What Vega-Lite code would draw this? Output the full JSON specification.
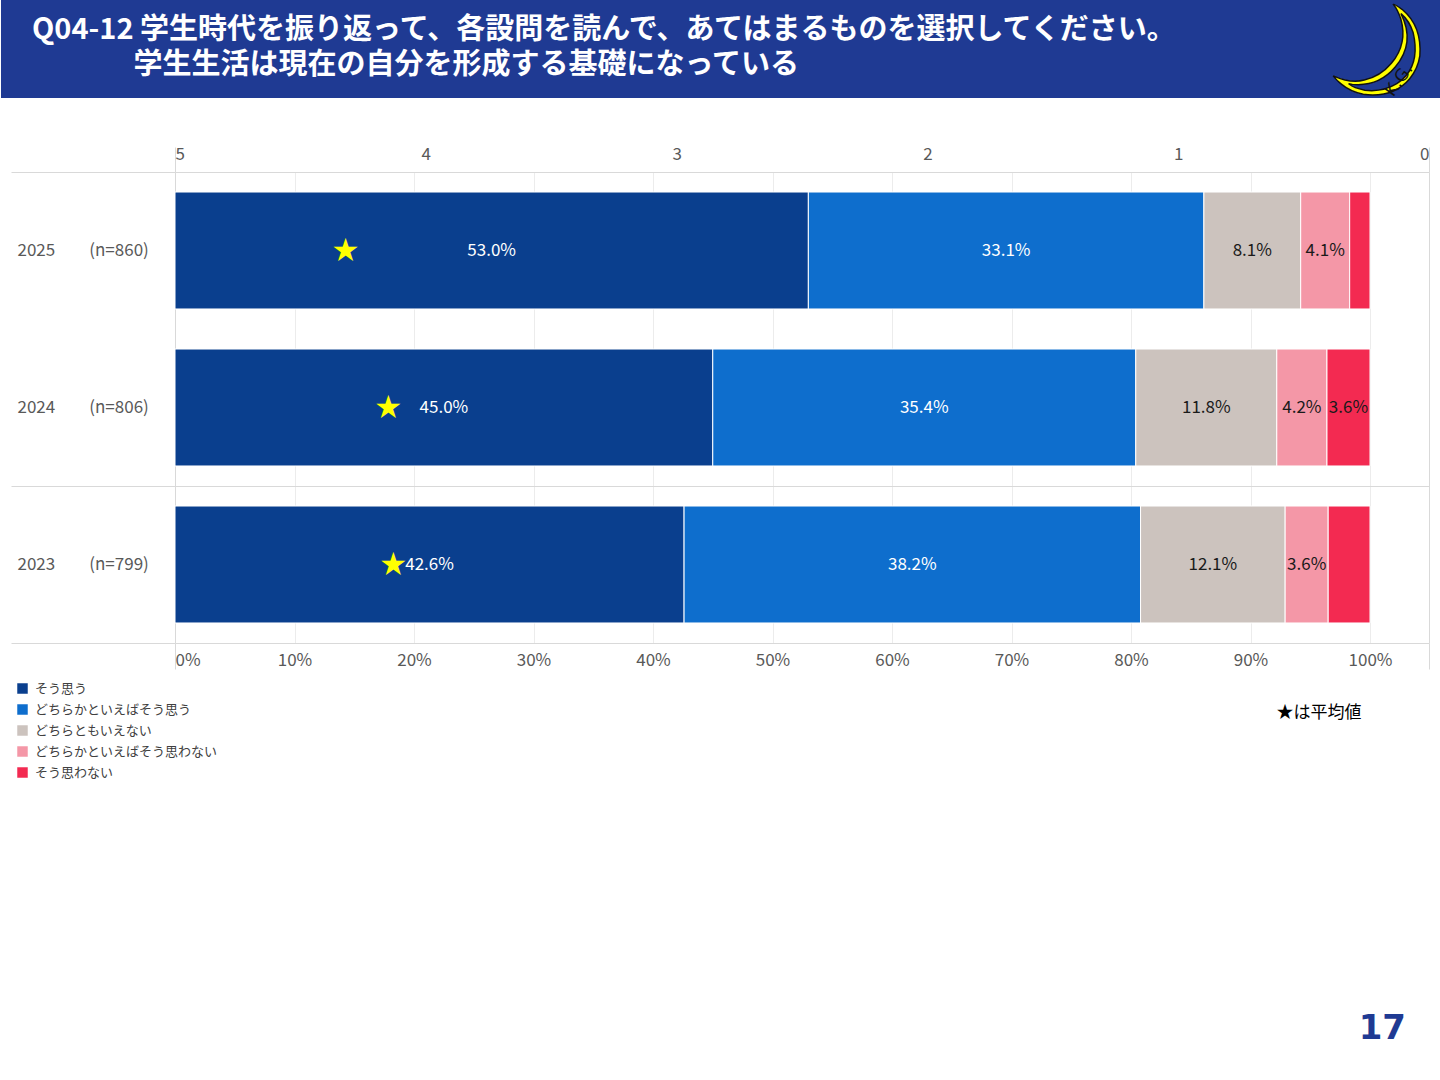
{
  "$schema": "https://vega.github.io/schema/vega-lite/v6.json",
  "padding": 0,
  "autosize": {"type": "pad"},
  "background": "white",
  "spacing": 47,
  "vconcat": [
    {
      "width": 1440,
      "height": 98,
      "view": {"fill": "#1F3A93", "stroke": null},
      "title": {
        "text": ["Q04-12 学生時代を振り返って、各設問を読んで、あてはまるものを選択してください。", "\u200B　　　\u2002学生生活は現在の自分を形成する基礎になっている"],
        "anchor": "start", "frame": "group", "dx": 31, "offset": -80,
        "fontSize": 29, "fontWeight": "bold", "color": "white", "lineHeight": 35, "font": "Noto Sans CJK JP"
      },
      "data": {"values": [{"logo": "☽", "kg": "K.G."}]},
      "layer": [
        {
          "mark": {"type": "text", "clip": true, "font": "DejaVu Sans", "fontSize": 132, "angle": 40, "color": "#FFFF00", "stroke": "#111111", "strokeWidth": 1.5},
          "encoding": {
            "text": {"field": "logo"},
            "x": {"datum": 0.949, "type": "quantitative", "scale": {"domain": [0, 1]}, "axis": null},
            "y": {"datum": 0.45, "type": "quantitative", "scale": {"domain": [0, 1]}, "axis": null}
          }
        },
        {
          "mark": {"type": "text", "clip": true, "font": "DejaVu Sans", "fontSize": 17, "angle": -55, "color": "#111111"},
          "encoding": {
            "text": {"field": "kg"},
            "x": {"datum": 0.971, "type": "quantitative"},
            "y": {"datum": 0.18, "type": "quantitative"}
          }
        }
      ]
    },
    {
      "width": 1428,
      "height": 471,
      "view": {"stroke": null},
      "title": {"text": "17", "orient": "bottom", "anchor": "end", "frame": "group", "offset": 292, "dx": -23,
        "font": "DejaVu Sans", "fontSize": 34, "fontWeight": "bold", "color": "#1F3A93"},
      "layer": [
        {
          "data": {"values": [
            {"group": "2025\u2003\u2003(n=860)", "answer": "そう思う", "order": 1, "pct": 0.530},
            {"group": "2025\u2003\u2003(n=860)", "answer": "どちらかといえばそう思う", "order": 2, "pct": 0.331},
            {"group": "2025\u2003\u2003(n=860)", "answer": "どちらともいえない", "order": 3, "pct": 0.081},
            {"group": "2025\u2003\u2003(n=860)", "answer": "どちらかといえばそう思わない", "order": 4, "pct": 0.041},
            {"group": "2025\u2003\u2003(n=860)", "answer": "そう思わない", "order": 5, "pct": 0.017},
            {"group": "2024\u2003\u2003(n=806)", "answer": "そう思う", "order": 1, "pct": 0.450},
            {"group": "2024\u2003\u2003(n=806)", "answer": "どちらかといえばそう思う", "order": 2, "pct": 0.354},
            {"group": "2024\u2003\u2003(n=806)", "answer": "どちらともいえない", "order": 3, "pct": 0.118},
            {"group": "2024\u2003\u2003(n=806)", "answer": "どちらかといえばそう思わない", "order": 4, "pct": 0.042},
            {"group": "2024\u2003\u2003(n=806)", "answer": "そう思わない", "order": 5, "pct": 0.036},
            {"group": "2023\u2003\u2003(n=799)", "answer": "そう思う", "order": 1, "pct": 0.426},
            {"group": "2023\u2003\u2003(n=799)", "answer": "どちらかといえばそう思う", "order": 2, "pct": 0.382},
            {"group": "2023\u2003\u2003(n=799)", "answer": "どちらともいえない", "order": 3, "pct": 0.121},
            {"group": "2023\u2003\u2003(n=799)", "answer": "どちらかといえばそう思わない", "order": 4, "pct": 0.036},
            {"group": "2023\u2003\u2003(n=799)", "answer": "そう思わない", "order": 5, "pct": 0.035}
          ]},
          "encoding": {
            "y": {
              "field": "group", "type": "nominal", "sort": null, "title": null,
              "scale": {"paddingInner": 0, "paddingOuter": 0},
              "axis": {
                "domain": false, "tickBand": "extent",
                "ticks": true, "tickSize": -174, "tickDash": [0, 10, 3000],
                "tickColor": {"condition": {"test": "test(regexp('^2025'), datum.value + '')", "value": "transparent"}, "value": "#d9d9d9"},
                "grid": true,
                "gridColor": {"condition": {"test": "test(regexp('^2025'), datum.value + '')", "value": "transparent"}, "value": "#d9d9d9"},
                "labelAlign": "left", "labelPadding": 158, "labelFontSize": 17, "labelColor": "#595959"
              }
            },
            "x": {
              "field": "pct", "type": "quantitative", "stack": "zero",
              "scale": {"domain": [0, 1.049372], "range": [174, 1428], "nice": false},
              "axis": {
                "orient": "bottom", "domain": false,
                "values": [0, 0.1, 0.2, 0.3, 0.4, 0.5, 0.6, 0.7, 0.8, 0.9, 1, 1.049372],
                "labelExpr": "datum.value > 1.001 ? '' : format(datum.value, '.0%')",
                "labelFlush": true, "labelOverlap": false, "labelFontSize": 17, "labelColor": "#595959",
                "tickSize": 26, "labelPadding": -17,
                "tickColor": {"condition": {"test": "datum.value == 0 || datum.value > 1.001", "value": "#d9d9d9"}, "value": "transparent"},
                "grid": true,
                "gridColor": {"condition": [{"test": "datum.value == 0", "value": "#d9d9d9"}, {"test": "datum.value > 1.001", "value": "transparent"}], "value": "#ececec"},
                "title": "★は平均値", "titleX": 1275, "titleY": 69, "titleAlign": "left", "titleBaseline": "middle",
                "titleFontSize": 17, "titleFontWeight": "normal", "titleColor": "#000000"
              }
            },
            "order": {"field": "order", "type": "quantitative"}
          },
          "layer": [
            {
              "mark": {"type": "bar", "height": {"band": 0.745}, "stroke": "white", "strokeWidth": 1},
              "encoding": {
                "color": {
                  "field": "answer", "type": "nominal",
                  "scale": {
                    "domain": ["そう思う", "どちらかといえばそう思う", "どちらともいえない", "どちらかといえばそう思わない", "そう思わない"],
                    "range": ["#0A3F8E", "#0E6ECD", "#CCC3BE", "#F497A7", "#F32A51"]
                  },
                  "legend": {
                    "title": null, "orient": "none", "legendX": 15, "legendY": 682, "padding": 0,
                    "direction": "vertical", "symbolType": "square", "symbolSize": 110, "symbolStrokeWidth": 0,
                    "labelFontSize": 13, "labelLimit": 400, "labelColor": "#404040", "rowPadding": 7, "labelOffset": 6
                  }
                }
              }
            },
            {
              "mark": {"type": "text", "fontSize": 17},
              "encoding": {
                "x": {"field": "pct", "type": "quantitative", "stack": "zero", "bandPosition": 0.5},
                "text": {"condition": {"test": "datum.pct < 0.036", "value": ""}, "field": "pct", "type": "quantitative", "format": ".1%"},
                "color": {"condition": {"test": "datum.order <= 2", "value": "white"}, "value": "#1a1a1a"}
              }
            }
          ]
        },
        {
          "data": {"values": [
            {"group": "2025\u2003\u2003(n=860)", "avg": 4.32},
            {"group": "2024\u2003\u2003(n=806)", "avg": 4.15},
            {"group": "2023\u2003\u2003(n=799)", "avg": 4.13}
          ]},
          "mark": {"type": "text", "text": "★", "fontSize": 26, "color": "#FFFF00"},
          "encoding": {
            "y": {"field": "group", "type": "nominal", "sort": null},
            "x": {
              "field": "avg", "type": "quantitative",
              "scale": {"domain": [0, 5], "range": [174, 1428], "reverse": true, "nice": false, "zero": false},
              "axis": {
                "orient": "top", "title": null, "domain": false,
                "values": [0, 1, 2, 3, 4, 5], "format": "d", "labelFlush": true,
                "labelFontSize": 17, "labelColor": "#595959",
                "tickSize": 25, "labelPadding": -16,
                "tickColor": {"condition": {"test": "datum.value == 0 || datum.value == 5", "value": "#d9d9d9"}, "value": "transparent"},
                "grid": true,
                "gridColor": {"condition": {"test": "datum.value == 0", "value": "#d9d9d9"}, "value": "transparent"}
              }
            }
          }
        }
      ],
      "resolve": {"scale": {"x": "independent"}}
    }
  ],
  "config": {
    "font": "Noto Sans CJK JP",
    "axis": {"labelFont": "Noto Sans CJK JP", "titleFont": "Noto Sans CJK JP"},
    "legend": {"labelFont": "Noto Sans CJK JP"}
  }
}
